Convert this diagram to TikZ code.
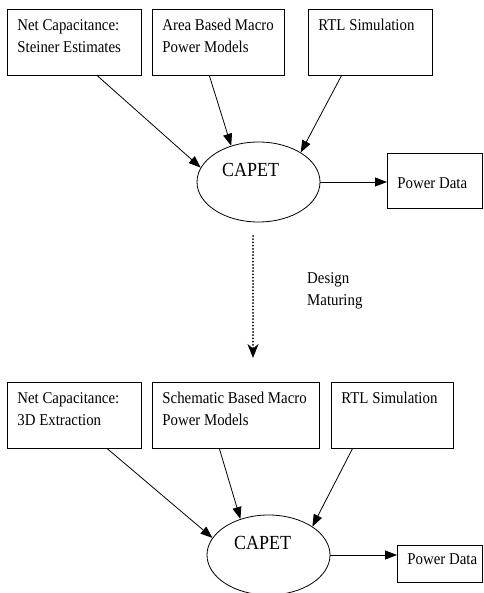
\documentclass[tikz,border=0pt]{standalone}
\usepackage{fontspec}
\setmainfont[FakeStretch=0.9]{Liberation Serif}
\usetikzlibrary{shapes.geometric,arrows.meta}
\newcommand{\boxcontent}[4]{\parbox[c][#2][t]{#1}{\raggedright\rule{0pt}{#3}#4}}
\tikzset{
  box/.style={draw, line width=0.8pt, anchor=north west, inner xsep=10pt, inner ysep=0pt,
    font=\fontsize{16.5}{22}\selectfont},
  ell/.style={draw, ellipse, line width=0.8pt, minimum width=123pt, minimum height=80pt, inner sep=0pt},
  capet/.style={font=\fontsize{20}{22}\selectfont, inner sep=0pt},
  arr/.style={line width=0.8pt, -{Triangle[length=12pt,width=9pt]}},
  dotarr/.style={line width=2pt, line cap=round, dash pattern=on 0pt off 3.2pt,
    -{Stealth[length=14pt,width=11pt]}},
  plain/.style={anchor=north west, inner sep=0pt, font=\fontsize{16.5}{22}\selectfont}
}
\begin{document}
\begin{tikzpicture}[x=1pt,y=-1pt]
\useasboundingbox (0,0) rectangle (483,593);
% ---------- top stage ----------
\node[box] (b1) at (7,9) {\boxcontent{114pt}{66pt}{21pt}{\mbox{Net Capacitance:}\\\mbox{Steiner Estimates}}};
\node[box] (b2) at (152,9) {\boxcontent{112pt}{66pt}{21pt}{\mbox{Area Based Macro}\\\mbox{Power Models}}};
\node[box] (b3) at (308,9) {\boxcontent{104pt}{66pt}{21pt}{\mbox{RTL Simulation}}};
\node[ell] (e1) at (258.5,182) {};
\node[capet] (t1) at ([shift={(-8,-12)}]e1.center) {CAPET};
\node[box] (p1) at (387,153) {\boxcontent{75pt}{55pt}{35pt}{\mbox{Power Data}}};

\draw[arr] ([xshift=23pt]b1.south) -- (e1.166);
\draw[arr] ([xshift=-9pt]b2.south) -- (e1.127);
\draw[arr] ([xshift=-29pt]b3.south) -- (e1.35);
\draw[arr] (e1.east) -- (e1.east -| p1.west);

% ---------- transition ----------
\coordinate (d1) at (253,236);
\coordinate (d2) at (253,358);
\draw[dotarr] (d1) -- (d2);
\node[plain] (dm) at (307,262) {\parbox[t]{90pt}{\rule{0pt}{21pt}Design\\Maturing}};

% ---------- bottom stage ----------
\node[box] (c1) at (7,382) {\boxcontent{114pt}{66pt}{21pt}{\mbox{Net Capacitance:}\\\mbox{3D Extraction}}};
\node[box] (c2) at (152,382) {\boxcontent{147pt}{66pt}{21pt}{\mbox{Schematic Based Macro}\\\mbox{Power Models}}};
\node[box] (c3) at (331,382) {\boxcontent{102pt}{66pt}{21pt}{\mbox{RTL Simulation}}};
\node[ell] (e2) at (268.5,555) {};
\node[capet] (t2) at ([shift={(-6,-12)}]e2.center) {CAPET};
\node[box] (p2) at (397,545) {\boxcontent{65pt}{37pt}{19pt}{\mbox{Power Data}}};

\draw[arr] ([xshift=33pt]c1.south) -- (e2.163);
\draw[arr] ([xshift=-16.5pt]c2.south) -- (e2.128);
\draw[arr] ([xshift=-40pt]c3.south) -- (e2.33);
\draw[arr] (e2.east) -- (e2.east -| p2.west);
\end{tikzpicture}
\end{document}
